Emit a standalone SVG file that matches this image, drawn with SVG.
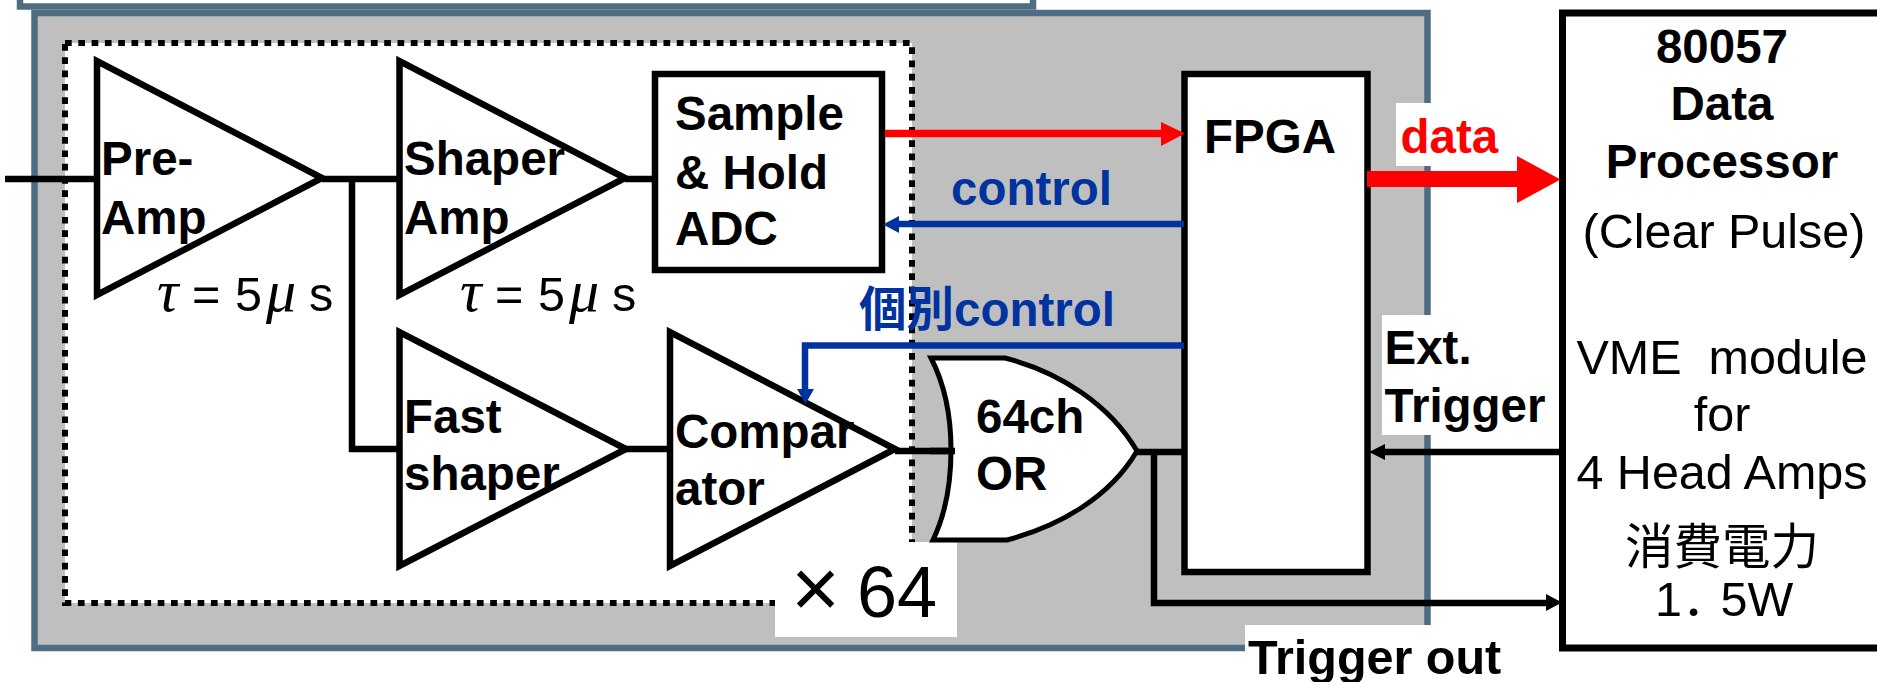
<svg xmlns="http://www.w3.org/2000/svg" width="1877" height="682" viewBox="0 0 1877 682">
<style>
text{font-family:"Liberation Sans","Noto Sans CJK JP",sans-serif;font-size:48.500px;fill:#000}
.b{font-weight:bold;font-size:47.500px}
.c{text-anchor:middle}
.blue{fill:#0033a0}
.red{fill:#f00}
.tri{fill:#fff;stroke:#000;stroke-width:6.500}
.box{fill:#fff;stroke:#000;stroke-width:6.500}
.w{fill:none;stroke:#000;stroke-width:6.500}
.bl{fill:none;stroke:#0033a0;stroke-width:6.500}
.i{font-family:"Liberation Serif","Noto Sans CJK JP",serif;font-style:italic;font-size:60px}
</style>
<rect width="1877" height="682" fill="#fff"/>
<g id="panel">
<rect x="34.500" y="13" width="1393" height="635" fill="#bfbfbf" stroke="#4f6d82" stroke-width="6.500"/>
<rect x="20" y="-20" width="1013" height="26.500" fill="#fff" stroke="#4f6d82" stroke-width="6.500"/>
</g>
<g id="channel-frame">
<rect x="65" y="43" width="847" height="560" fill="#fff" stroke="#000" stroke-width="6" stroke-dasharray="6.700 6.600"/>
</g>
<g id="connectors-base">
<path class="w" d="M5 179H97M322 179H400M352 179V449H400M625 179H655M626 449H670"/>
<path class="w" d="M895 451H951M1137 452H1185M1154 452V603H1548"/>
</g>
<g id="pre-amp"><polygon class="tri" points="97,61 97,295 322,178"/><text class="b" x="101" y="175">Pre-</text><text class="b" x="101" y="234">Amp</text></g>
<g id="shaper-amp"><polygon class="tri" points="399.500,61 399.500,295 625,178"/><text class="b" x="404" y="175">Shaper</text><text class="b" x="404" y="234">Amp</text></g>
<g id="fast-shaper"><polygon class="tri" points="399.500,332 399.500,566 626,449"/><text class="b" x="404" y="433">Fast</text><text class="b" x="404" y="490">shaper</text></g>
<g id="comparator"><polygon class="tri" points="670,332 670,566 895,449"/><text class="b" x="675" y="448">Compar</text><text class="b" x="675" y="505">ator</text></g>
<g id="sample-hold"><rect class="box" x="655" y="74" width="227" height="196"/><text class="b" x="675" y="130">Sample</text><text class="b" x="675" y="189">&amp; Hold</text><text class="b" x="675" y="245">ADC</text></g>
<g id="label-boxes">
<rect x="775" y="542" width="182" height="95" fill="#fff"/>
<rect x="1396" y="103" width="120" height="63" fill="#fff"/>
<rect x="1382" y="315" width="178" height="120" fill="#fff"/>
<rect x="1245" y="625" width="315" height="57" fill="#fff"/>
</g>
<g id="or-gate"><path d="M931 358H1005C1060 372 1110 405 1137 451C1110 497 1060 526 1007 540H933C945 515 951 482 951 450C951 418 945 385 931 358Z" fill="#fff" stroke="#000" stroke-width="5"/><path class="w" d="M930 451H955"/><text class="b" x="976" y="433">64ch</text><text class="b" x="976" y="490">OR</text></g>
<g id="fpga"><rect class="box" x="1184.500" y="74" width="183" height="498"/><text class="b" x="1204" y="153">FPGA</text></g>
<g id="data-processor"><rect x="1562.500" y="13" width="400" height="635" fill="#fff" stroke="#000" stroke-width="7"/>
<text class="b c" x="1722" y="63">80057</text><text class="b c" x="1722" y="120">Data</text><text class="b c" x="1722" y="178">Processor</text>
<text class="c" x="1724" y="248">(Clear Pulse)</text><text class="c" x="1722" y="374" xml:space="preserve">VME  module</text><text class="c" x="1722" y="431">for</text><text class="c" x="1722" y="489">4 Head Amps</text><text class="c" x="1722" y="564">消費電力</text><text x="1655" y="616">1<tspan letter-spacing="-10">．</tspan>5W</text></g>
<g id="connectors">
<path d="M885 133.500H1161" fill="none" stroke="#f00" stroke-width="7.500"/><polygon class="red" points="1161,122 1185,133.500 1161,146"/>
<path class="bl" d="M1184 224H898"/><polygon fill="#0033a0" points="899,216 883,224.500 899,233"/>
<path class="bl" d="M1184 345.500H805V390"/><polygon fill="#0033a0" points="797,389 814,389 805.500,404"/>
<path d="M1367 179H1518" fill="none" stroke="#f00" stroke-width="16"/><polygon class="red" points="1517,156 1560.500,179.500 1517,203"/>
<path class="w" d="M1561 452H1384"/><polygon points="1385,444 1369,452 1385,460"/>
<polygon points="1546,594 1562,602.500 1546,611"/>
</g>
<g id="labels">
<text class="b red" x="1400.500" y="153">data</text>
<text class="b blue" x="951" y="205">control</text>
<text class="b blue" x="859" y="326">個別control</text>
<text class="b" x="1384.500" y="364">Ext.</text><text class="b" x="1384.500" y="422">Trigger</text>
<text class="b" x="1248" y="674" style="font-size:48.500px">Trigger out</text>
<text y="311"><tspan class="i" x="157">τ</tspan><tspan x="192">=</tspan><tspan x="235">5</tspan><tspan class="i" x="266">μ</tspan><tspan x="309">s</tspan></text>
<text y="311"><tspan class="i" x="460">τ</tspan><tspan x="495">=</tspan><tspan x="538">5</tspan><tspan class="i" x="569">μ</tspan><tspan x="612">s</tspan></text>
<text y="617" style="font-size:72px"><tspan x="791" style="font-size:84px">×</tspan><tspan x="857">64</tspan></text>
</g>
</svg>
